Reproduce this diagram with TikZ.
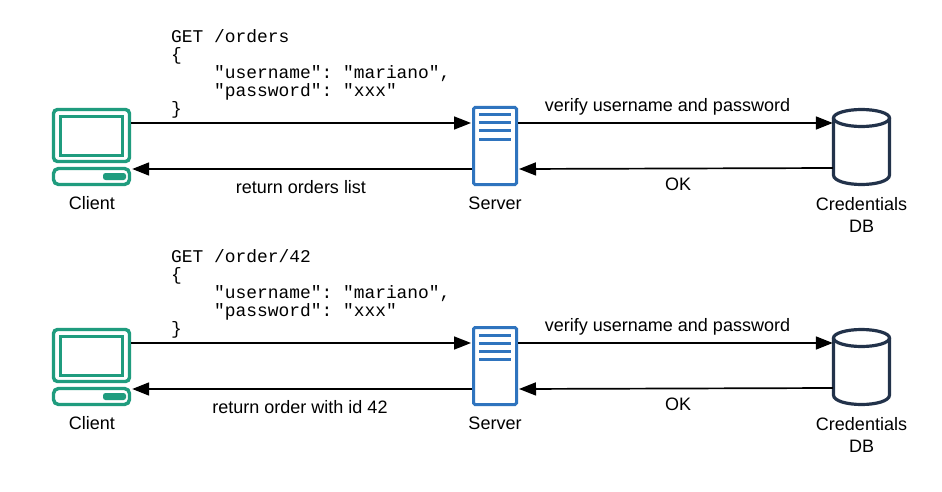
\documentclass[tikz,border=0pt]{standalone}
\usepackage{fontspec}
\setmainfont{Liberation Sans}
\setmonofont{Liberation Mono}
\usetikzlibrary{arrows.meta}
\definecolor{teal1}{HTML}{1F9C7E}
\definecolor{blue1}{HTML}{2F74BE}
\definecolor{navy1}{HTML}{22324A}
\tikzset{
  lbl/.style={font=\fontsize{18}{22}\selectfont,text=black,inner sep=0pt,align=center},
  code/.style={font=\ttfamily\fontsize{17.9}{18}\selectfont,inner sep=0pt,align=left,anchor=north west},
  conn/.style={draw=black,line width=1.7pt,-{Triangle[length=17pt,width=13pt]},shorten >=0pt},
  monitorbox/.style={draw=teal1,line width=3.4pt,rounded corners=4pt,minimum width=76pt,minimum height=52pt,inner sep=0pt},
  screenbox/.style={draw=teal1,line width=3.4pt,minimum width=62pt,minimum height=39pt,inner sep=0pt},
  basebox/.style={draw=teal1,line width=3.4pt,rounded corners=5pt,minimum width=76pt,minimum height=16pt,inner sep=0pt},
  btnbox/.style={fill=teal1,rounded corners=2.5pt,minimum width=23pt,minimum height=7pt,inner sep=0pt},
  serverbox/.style={draw=blue1,line width=3pt,rounded corners=1.5pt,minimum width=43pt,minimum height=77pt,inner sep=0pt},
  rackline/.style={draw=blue1,line width=3pt},
  dbbox/.style={minimum width=57pt,minimum height=76pt,inner sep=0pt},
  dbline/.style={draw=navy1,line width=3.2pt},
}
\begin{document}
\begin{tikzpicture}[x=1pt,y=-1pt]
\useasboundingbox (0,0) rectangle (942,492);
\fill[white] (0,0) rectangle (942,492);
\foreach \r/\res/\ret/\retx in {0/{orders}/{return orders list}/301,220/{order/42}/{return order with id 42}/300}{
  \begin{scope}[yshift=-\r pt]
    % client
    \node[monitorbox] (mon\r) at (91.5,135.5) {};
    \node[screenbox] (scr\r) at (91.5,136) {};
    \node[basebox] (base\r) at (91.5,176.5) {};
    \node[btnbox] (btn\r) at (114.5,176.5) {};
    \node[lbl] (clientl\r) at (92,203.5) {Client};
    % server
    \node[serverbox] (srv\r) at (495,146) {};
    \draw[rackline] (479,115) -- (511,115) (479,123) -- (511,123) (479,131) -- (511,131) (479,139.5) -- (511,139.5);
    \node[lbl] (serverl\r) at (495,203.5) {Server};
    % database
    \node[dbbox] (db\r) at (861.5,147) {};
    \draw[dbline] (833.5,118) -- (833.5,175)
       .. controls (833.5,181) and (847,184.5) .. (861.5,184.5)
       .. controls (876,184.5) and (889.5,181) .. (889.5,175) -- (889.5,118);
    \draw[dbline] (861.5,118) ellipse [x radius=28pt,y radius=8.5pt];
    \node[lbl] (dbl\r) at (861.5,215) {Credentials\\DB};
    % connectors
    \draw[conn] ([yshift=12.5pt]mon\r.east) -- ([yshift=23pt,xshift=-1pt]srv\r.west);
    \draw[conn] ([yshift=-23pt]srv\r.west) -- ([yshift=7.5pt,xshift=1pt]base\r.east);
    \draw[conn] ([yshift=23pt]srv\r.east) -- ([yshift=24pt]db\r.west);
    \draw[conn] ([yshift=-21pt]db\r.west) -- ([yshift=-23pt,xshift=1pt]srv\r.east);
    % connector labels
    \node[lbl] (ver\r) at (667.5,106.5) {verify username and password};
    \node[lbl] (ok\r) at (678,184.5) {OK};
    \node[lbl] (ret\r) at (\retx,187.5) {\ret};
    \node[code] (code\r) at (171,29.5) {GET /\res\\\{\\\ \ \ \ "username": "mariano",\\\ \ \ \ "password": "xxx"\\\}};
  \end{scope}
}
\end{tikzpicture}
\end{document}
